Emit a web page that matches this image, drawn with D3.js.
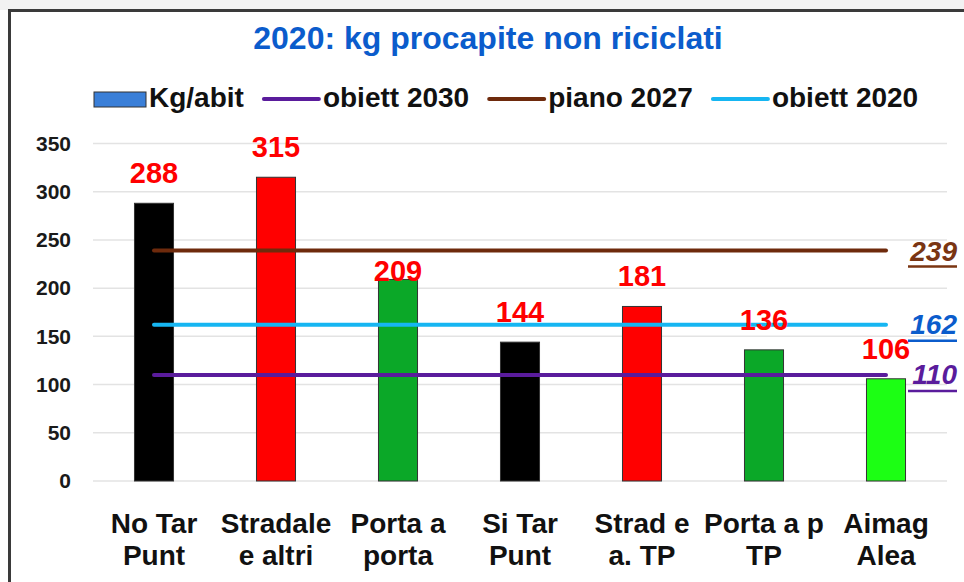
<!DOCTYPE html>
<html>
<head>
<meta charset="utf-8">
<script src="https://cdn.jsdelivr.net/npm/d3@7"></script>
<style>
  html, body { margin: 0; padding: 0; background: #fff; }
  svg { display: block; font-family: "Liberation Sans", Arial, sans-serif; font-weight: bold; }
</style>
</head>
<body>
<svg class="chart" width="964" height="582"></svg>
<script>
// categories (two-line labels) and values
var categories = [
  ["No Tar", "Punt"],
  ["Stradale", "e altri"],
  ["Porta a", "porta"],
  ["Si Tar", "Punt"],
  ["Strad e", "a. TP"],
  ["Porta a p", "TP"],
  ["Aimag", "Alea"]
];
var values = [288, 315, 209, 144, 181, 136, 106];
var barColors = ["#000000", "#ff0000", "#0ba828", "#000000", "#ff0000", "#0ba828", "#1cff14"];

// target lines
var targetNames = ["obiett 2030", "piano 2027", "obiett 2020"];
var targetValues = [110, 239, 162];
var targetColors = ["#5a1c9c", "#6e2a0c", "#16b6f2"];
var targetLabelColors = ["#5a1c9c", "#7a3512", "#0b5ccc"];

var yTicks = [0, 50, 100, 150, 200, 250, 300, 350];
var titleText = "2020: kg procapite non riciclati";
var barSeriesName = "Kg/abit";

var width = 964,
    height = 582;

var svg = d3.select(".chart")
    .attr("width", width)
    .attr("height", height);

// grey strip above the frame and the frame itself
svg.append("rect")
    .attr("x", 0).attr("y", 0)
    .attr("width", width).attr("height", 10)
    .attr("fill", "#f2f2f2");
svg.append("rect")
    .attr("x", 9.5).attr("y", 10.5)
    .attr("width", 980).attr("height", 600)
    .attr("fill", "#fff")
    .attr("stroke", "#3a3a3a")
    .attr("stroke-width", 3);

var x = d3.scaleBand()
    .domain(d3.range(values.length))
    .range([93, 947])
    .paddingInner(0.68)
    .paddingOuter(0.34);

var y = d3.scaleLinear()
    .domain([0, 350])
    .range([481, 143.5]);

// title
svg.append("text")
    .attr("x", 488)
    .attr("y", 49)
    .attr("text-anchor", "middle")
    .attr("fill", "#0b5ccc")
    .style("font-size", "32px")
    .text(titleText);

// gridlines
svg.append("g")
    .selectAll("line")
    .data(yTicks)
    .enter()
    .append("line")
      .attr("x1", 93)
      .attr("x2", 947)
      .attr("y1", function(d) { return y(d); })
      .attr("y2", function(d) { return y(d); })
      .attr("stroke", "#e3e3e3")
      .attr("stroke-width", 1.5);

// y axis (labels only)
var yAxis = svg.append("g")
    .attr("transform", "translate(74,0)")
    .call(d3.axisLeft(y).tickValues(yTicks).tickSize(0).tickPadding(3));
yAxis.select(".domain").remove();
yAxis.selectAll("text")
    .style("font-family", "'Liberation Sans', Arial, sans-serif")
    .style("font-weight", "bold")
    .style("font-size", "21px")
    .attr("fill", "#1a1a1a");

// bars
svg.append("g")
    .selectAll("rect")
    .data(values)
    .enter()
    .append("rect")
      .attr("x", function(d, i) { return x(i); })
      .attr("y", function(d) { return y(d); })
      .attr("width", x.bandwidth())
      .attr("height", function(d) { return y(0) - y(d); })
      .attr("fill", function(d, i) { return barColors[i]; })
      .attr("stroke", "#333")
      .attr("stroke-width", 1);

// target lines, from first bar centre to last bar centre
var xFirst = x(0) + x.bandwidth() / 2,
    xLast = x(values.length - 1) + x.bandwidth() / 2;

svg.append("g")
    .selectAll("line")
    .data(targetValues)
    .enter()
    .append("line")
      .attr("x1", xFirst)
      .attr("x2", xLast)
      .attr("y1", function(d) { return y(d); })
      .attr("y2", function(d) { return y(d); })
      .attr("stroke", function(d, i) { return targetColors[i]; })
      .attr("stroke-width", 4)
      .attr("stroke-linecap", "round");

// value labels over the bars; nudged down onto the bar when a target line cuts through them
var labelSize = 29, capH = 20;
svg.append("g")
    .selectAll("text")
    .data(values)
    .enter()
    .append("text")
      .attr("x", function(d, i) { return x(i) + x.bandwidth() / 2; })
      .attr("y", function(d) {
        var base = y(d) - 20;
        var hit = targetValues.some(function(t) {
          var ty = y(t);
          return ty > base - capH + 3 && ty < base - 6;
        });
        return hit ? y(d) + 2 : base;
      })
      .attr("text-anchor", "middle")
      .attr("fill", "#ff0000")
      .style("font-size", labelSize + "px")
      .text(function(d) { return d; });

// target value labels at the right, italic and underlined
var tl = svg.append("g")
    .selectAll("g")
    .data(targetValues)
    .enter()
    .append("g");
tl.append("text")
    .attr("x", 957)
    .attr("y", function(d, i) { return y(d) + (i === 1 ? 10 : 9); })
    .attr("text-anchor", "end")
    .attr("fill", function(d, i) { return targetLabelColors[i]; })
    .style("font-size", "28px")
    .style("font-style", "italic")
    .text(function(d) { return d; });
tl.append("line")
    .attr("x1", 908)
    .attr("x2", 957)
    .attr("y1", function(d) { return y(d) + 16; })
    .attr("y2", function(d) { return y(d) + 16; })
    .attr("stroke", function(d, i) { return targetLabelColors[i]; })
    .attr("stroke-width", 2.5);

// x category labels
var xl = svg.append("g")
    .selectAll("text")
    .data(categories)
    .enter()
    .append("text")
      .attr("x", function(d, i) { return x(i) + x.bandwidth() / 2; })
      .attr("y", 533)
      .attr("text-anchor", "middle")
      .attr("fill", "#111")
      .style("font-size", "28px");
xl.append("tspan")
    .attr("x", function(d, i) { return x(i) + x.bandwidth() / 2; })
    .text(function(d) { return d[0]; });
xl.append("tspan")
    .attr("x", function(d, i) { return x(i) + x.bandwidth() / 2; })
    .attr("dy", 32)
    .text(function(d) { return d[1]; });

// legend, laid out left to right from measured text widths
var legend = svg.append("g");
legend.append("rect")
    .attr("x", 94).attr("y", 92)
    .attr("width", 52).attr("height", 15)
    .attr("fill", "#3a7fd8")
    .attr("stroke", "#333")
    .attr("stroke-width", 1);
var first = legend.append("text")
    .attr("x", 149).attr("y", 107)
    .attr("fill", "#111")
    .style("font-size", "28px")
    .text(barSeriesName);

var cursor = 149 + first.node().getComputedTextLength() + 20;
targetNames.forEach(function(name, i) {
  legend.append("line")
      .attr("x1", cursor).attr("x2", cursor + 55)
      .attr("y1", 99).attr("y2", 99)
      .attr("stroke", targetColors[i])
      .attr("stroke-width", 4)
      .attr("stroke-linecap", "round");
  var t = legend.append("text")
      .attr("x", cursor + 59).attr("y", 107)
      .attr("fill", "#111")
      .style("font-size", "28px")
      .text(name);
  cursor = cursor + 59 + t.node().getComputedTextLength() + 20;
});
</script>
</body>
</html>
